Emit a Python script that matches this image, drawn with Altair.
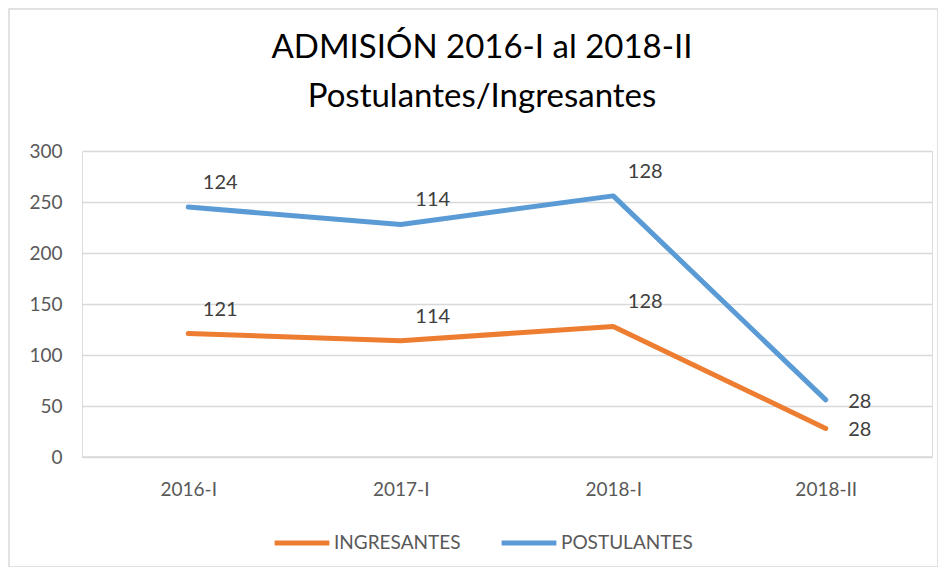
import altair as alt
import pandas as pd

categories = ["2016-I", "2017-I", "2018-I", "2018-II"]
ingresantes = [121, 114, 128, 28]
postulantes = [124, 114, 128, 28]
series_names = ["INGRESANTES", "POSTULANTES"]
colors = ["#ED7D31", "#5B9BD5"]
title_lines = ["ADMISIÓN 2016-I al 2018-II", "Postulantes/Ingresantes"]

rows = []
for i, c in enumerate(categories):
    rows.append({"cat": c, "serie": series_names[0], "value": ingresantes[i], "ord": 0, "idx": i})
    rows.append({"cat": c, "serie": series_names[1], "value": postulantes[i], "ord": 1, "idx": i})
df = pd.DataFrame(rows)

FONT = "Lato"
GRAY = "#595959"

base = alt.Chart(df).transform_window(
    cum="sum(value)", groupby=["cat"], sort=[{"field": "ord"}]
)

x = alt.X("cat:N", sort=categories, title=None,
          scale=alt.Scale(paddingInner=0, paddingOuter=0),
          axis=alt.Axis(labelAngle=0, labelFontSize=19, labelColor=GRAY, labelFont=FONT,
                        ticks=False, domain=False, labelPadding=23, grid=False))
y = alt.Y("cum:Q", title=None,
          scale=alt.Scale(domain=[0, 300]),
          axis=alt.Axis(values=[0, 50, 100, 150, 200, 250, 300], labelFontSize=19,
                        labelColor=GRAY, labelFont=FONT, ticks=False, domain=False,
                        labelPadding=20, gridColor="#d9d9d9", gridWidth=1.5))
color = alt.Color("serie:N", sort=series_names,
                  scale=alt.Scale(domain=series_names, range=colors),
                  legend=alt.Legend(orient="none", legendX=190, legendY=362, direction="horizontal",
                                    title=None, symbolType="stroke", symbolStrokeWidth=5,
                                    symbolSize=3000, labelFontSize=19, labelColor=GRAY,
                                    labelFont=FONT, columnPadding=30, labelOffset=2))

lines = base.mark_line(strokeWidth=5, strokeCap="round", strokeJoin="round").encode(
    x=x, y=y, color=color, detail="serie:N"
)

labels_mid = base.transform_filter(alt.datum.idx < 3).mark_text(
    dx=32, dy=-24, fontSize=20, font=FONT, color="#404040"
).encode(x=alt.X("cat:N", sort=categories), y="cum:Q", text="value:Q")

labels_last = base.transform_filter(alt.datum.idx == 3).mark_text(
    dx=34, dy=2, fontSize=20, font=FONT, color="#404040"
).encode(x=alt.X("cat:N", sort=categories), y="cum:Q", text="value:Q")

one = alt.Chart(df).transform_filter(alt.datum.idx == 0).transform_filter(alt.datum.ord == 0)

border = one.mark_rect(fill=None, stroke="#d9d9d9", strokeWidth=1.5, clip=False).encode(
    x=alt.value(-73), x2=alt.value(856), y=alt.value(-142), y2=alt.value(416)
)

baseline = one.mark_rule(color="#d9d9d9", strokeWidth=1.5).encode(
    x=alt.value(0), x2=alt.value(850), y=alt.value(306)
)

title1 = one.mark_text(fontSize=33, font=FONT, color="#000000", baseline="middle", align="center").encode(
    x=alt.value(400), y=alt.value(-103), text=alt.value(title_lines[0])
)
title2 = one.mark_text(fontSize=33, font=FONT, color="#000000", baseline="middle", align="center").encode(
    x=alt.value(400), y=alt.value(-54), text=alt.value(title_lines[1])
)

chart = alt.layer(border, baseline, lines, labels_mid, labels_last, title1, title2).properties(
    width=850, height=306,
    autosize=alt.AutoSizeParams(type="none"),
    padding={"left": 74, "top": 143, "right": 6, "bottom": 110},
).configure_view(stroke=None).configure(background="white")

chart.save("out.html", embed_options={"renderer": "svg", "actions": False})
